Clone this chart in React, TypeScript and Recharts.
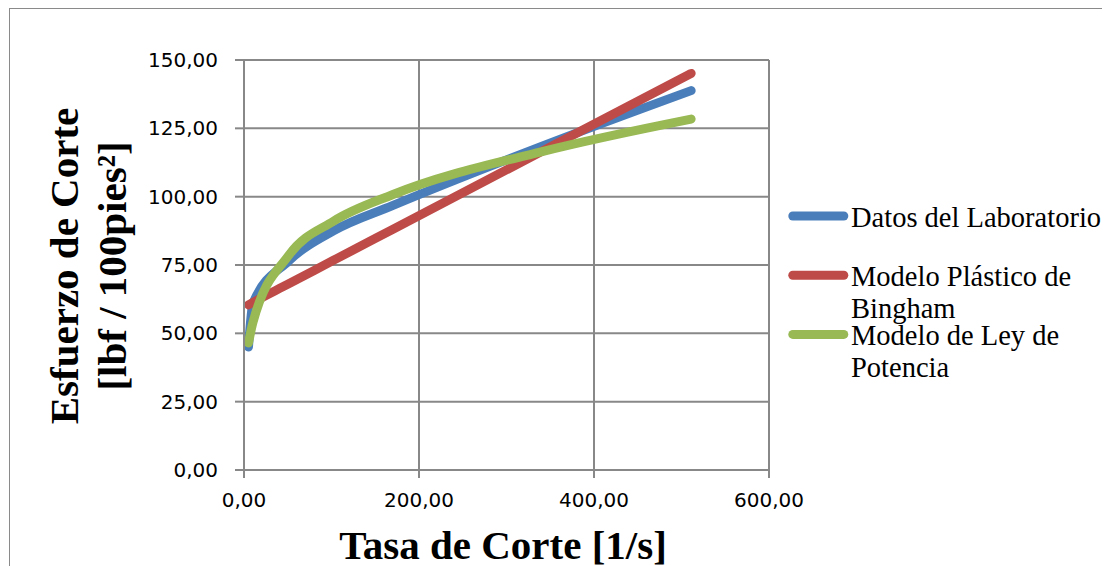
import React from 'react';
import { LineChart, Line, XAxis, YAxis, CartesianGrid, Legend } from 'recharts';

// Shear rate [1/s] at each viscometer reading
const shearRates = [5.11, 10.22, 51.1, 102.2, 170.3, 340.6, 511];
// Shear stress [lbf / 100 ft²]
const labData = [45, 61, 76.5, 87.5, 96.8, 118.5, 138.8];
const binghamModel = [60.4, 61.3, 68.1, 76.7, 88.1, 116.6, 145.1];
const powerLawModel = [46.5, 54, 78.5, 91, 100.8, 116.5, 128.4];

const xTicks = [0, 200, 400, 600];
const yTicks = [0, 25, 50, 75, 100, 125, 150];

const labName = 'Datos del Laboratorio';
const binghamName = 'Modelo Plástico de Bingham';
const powerName = 'Modelo de Ley de Potencia';

const xTitle = 'Tasa de Corte [1/s]';
const yTitleLines = ['Esfuerzo de Corte', '[lbf / 100pies²]'];

const BLUE = '#4A7EBB';
const RED = '#BE4B48';
const GREEN = '#98B954';
const GRID = '#888888';
const SERIF = '"Liberation Serif", "Times New Roman", serif';
const SANS = '"DejaVu Sans", Verdana, sans-serif';

const fmt = (v: number) => v.toFixed(2).replace('.', ',');

// greedy word wrap for legend entries
const wrap = (s: string, max = 21) => {
  const out: string[] = [];
  let cur = '';
  for (const w of s.split(' ')) {
    const next = cur ? cur + ' ' + w : w;
    if (next.length > max && cur) {
      out.push(cur);
      cur = w;
    } else cur = next;
  }
  if (cur) out.push(cur);
  return out;
};

const LegendBox = (props: any) => {
  const payload = props.payload || [];
  return (
    <svg width={330} height={210} style={{ overflow: 'visible' }}>
      {payload.map((entry: any, i: number) => {
        const cy = 27 + i * 59.2;
        const lines = wrap(String(entry.value));
        return (
          <g key={String(entry.value)}>
            <line x1={12.8} x2={63.8} y1={cy} y2={cy} stroke={entry.color} strokeWidth={9} strokeLinecap="round" />
            {lines.map((ln, j) => (
              <text key={j} x={71} y={cy + 11 + j * 31.5} fontFamily={SERIF} fontSize={28.5} fill="#000">
                {ln}
              </text>
            ))}
          </g>
        );
      })}
    </svg>
  );
};

const YTitle = () => {
  const cy = 257;
  return (
    <g>
      {yTitleLines.map((ln, i) => {
        const x = 68.3 + i * 47.5;
        return (
          <text
            key={i}
            x={x}
            y={cy}
            transform={`rotate(-90, ${x}, ${cy})`}
            textAnchor="middle"
            fontFamily={SERIF}
            fontWeight="bold"
            fontSize={41}
            fill="#000"
          >
            {ln}
          </text>
        );
      })}
    </g>
  );
};

const XTitle = () => (
  <text x={493} y={550} textAnchor="middle" fontFamily={SERIF} fontWeight="bold" fontSize={41} fill="#000">
    {xTitle}
  </text>
);

export default function App() {
  const data = shearRates.map((rate, i) => ({
    rate,
    lab: labData[i],
    bingham: binghamModel[i],
    power: powerLawModel[i],
  }));

  return (
    <div
      style={{
        position: 'relative',
        width: 1110,
        height: 580,
        marginLeft: 1,
        border: '1px solid #8a8a8a',
        boxSizing: 'border-box',
        background: '#fff',
      }}
    >
      <style>{`html,body{overflow:hidden;}`}</style>
      <LineChart width={1100} height={560} data={data} margin={{ top: 51, right: 341, bottom: 39, left: 0 }}>
        <CartesianGrid stroke={GRID} strokeWidth={2} />
        <XAxis
          dataKey="rate"
          type="number"
          domain={[0, 600]}
          ticks={xTicks}
          tickFormatter={fmt}
          tick={{ fontFamily: SANS, fontSize: 20, fill: '#000' }}
          tickSize={8}
          tickMargin={15}
          stroke={GRID}
          strokeWidth={2}
          height={60}
          label={{ content: XTitle }}
        />
        <YAxis
          type="number"
          domain={[0, 150]}
          ticks={yTicks}
          tickFormatter={fmt}
          tick={{ fontFamily: SANS, fontSize: 20, fill: '#000' }}
          tickSize={9}
          tickMargin={17}
          stroke={GRID}
          strokeWidth={2}
          width={234}
          label={{ content: YTitle }}
        />
        <Legend
          content={LegendBox}
          layout="horizontal"
          verticalAlign="middle"
          align="center"
          wrapperStyle={{ position: 'absolute', left: 770, top: 180, width: 330, height: 210 }}
        />
        <Line name={labName} dataKey="lab" type="monotone" stroke={BLUE} strokeWidth={9} strokeLinecap="round" strokeLinejoin="round" dot={false} activeDot={false} isAnimationActive={false} />
        <Line name={binghamName} dataKey="bingham" type="monotone" stroke={RED} strokeWidth={9} strokeLinecap="round" strokeLinejoin="round" dot={false} activeDot={false} isAnimationActive={false} />
        <Line name={powerName} dataKey="power" type="monotone" stroke={GREEN} strokeWidth={9} strokeLinecap="round" strokeLinejoin="round" dot={false} activeDot={false} isAnimationActive={false} />
      </LineChart>
    </div>
  );
}
